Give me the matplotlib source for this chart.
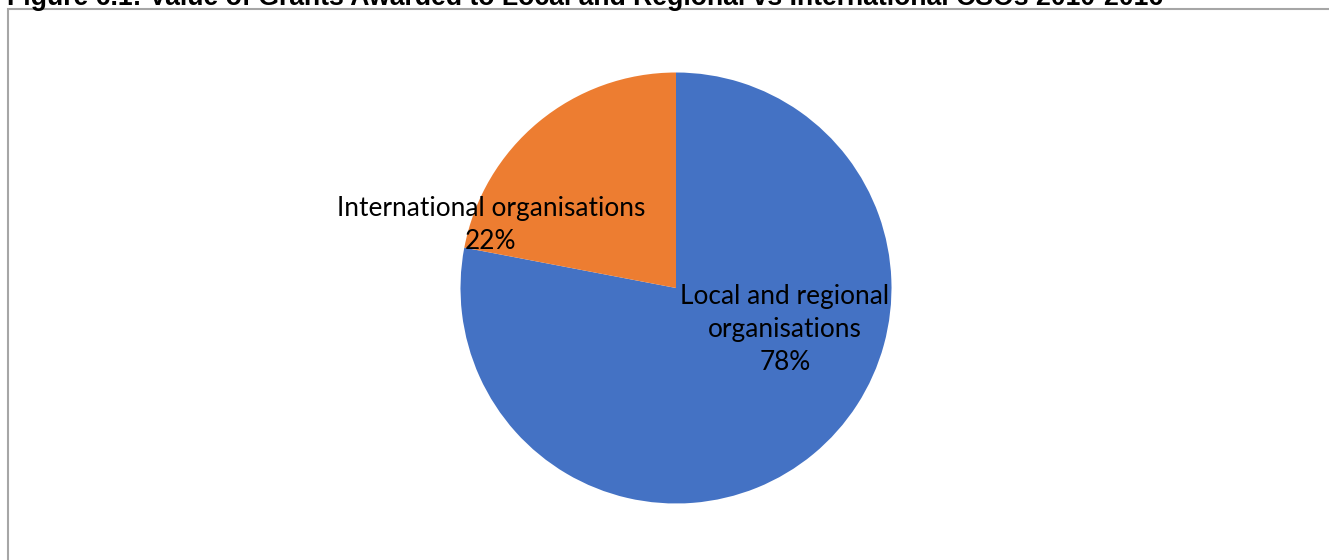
import matplotlib.pyplot as plt
from matplotlib.patches import Rectangle

labels = ["Local and regional\norganisations", "International organisations"]
shares = [78, 22]
colors = ["#4472C4", "#ED7D31"]
title = "Figure 6.1: Value of Grants Awarded to Local and Regional vs International CSOs 2010-2016"

W, H = 1329, 560
fig = plt.figure(figsize=(W / 100, H / 100), dpi=100)

# chart frame (cut off on the right and bottom)
fig.patches.append(Rectangle((8 / W, -0.05), 1.2, 1 - 9 / H + 0.05, transform=fig.transFigure,
                             facecolor="none", edgecolor="#A6A6A6", linewidth=1.5))

# title, only its lower half visible
fig.text(7 / W, 1 - 5 / H, title, ha="left", va="baseline", fontsize=19.2,
         fontweight="bold", family="Liberation Sans")

ax = fig.add_axes([0, 0, 1, 1])
r = 215.5
cx, cy = 676, 288
ax.pie(shares, colors=colors, startangle=90, counterclock=False, radius=1,
       wedgeprops=dict(linewidth=0))
ax.set_xlim(-cx / r, (W - cx) / r)
ax.set_ylim(-(H - cy) / r, cy / r)
ax.set_aspect("equal")
ax.axis("off")

pos = [((785 - cx) / r, (cy - 330) / r), ((491 - cx) / r, (cy - 225) / r)]
for lab, s, (x, y) in zip(labels, shares, pos):
    ax.text(x, y, f"{lab}\n{s}%", ha="center", va="center", fontsize=18.9,
            family="Lato", linespacing=1.4, color="#000000")

fig.savefig("out.png", dpi=100)
